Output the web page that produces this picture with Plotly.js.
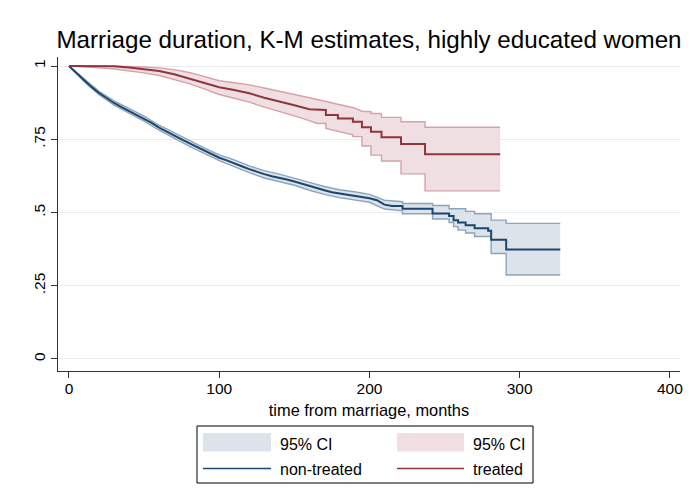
<!DOCTYPE html>
<html>
<head>
<meta charset="utf-8">
<script src="https://cdn.plot.ly/plotly-3.0.1.min.js"></script>
<style>html,body{margin:0;padding:0;background:#fff;}#chart{width:691px;height:504px;}</style>
</head>
<body>
<div id="chart"></div>
<script>
// ---- data ----
var chartTitle = "Marriage duration, K-M estimates, highly educated women";
var xTitle = "time from marriage, months";
var seriesNames = ["non-treated", "treated"];
var ciLabel = "95% CI";
var xTickVals = [0, 100, 200, 300, 400];
var yTickVals = [0, 0.25, 0.5, 0.75, 1];
var yTickText = ["0", ".25", ".5", ".75", "1"];

// non-treated: survival estimate (knots; repeated times mark step drops)
var ntTime = [0,5,10,15,20,25,30,35,40,45,50,55,60,65,70,75,80,85,90,95,100,105,110,115,120,125,130,135,140,145,150,155,160,165,170,175,180,185,190,195,200,205,210,215,222,222,242,242,253,253,256,256,259,259,264,264,270,270,279,279,281,281,291,291,327];
var ntSurv = [1,0.976,0.952,0.929,0.908,0.890,0.874,0.860,0.847,0.834,0.821,0.806,0.790,0.776,0.763,0.750,0.737,0.724,0.712,0.699,0.687,0.678,0.669,0.658,0.648,0.639,0.631,0.624,0.619,0.613,0.606,0.598,0.590,0.583,0.576,0.569,0.565,0.561,0.558,0.554,0.549,0.542,0.527,0.522,0.522,0.513,0.513,0.497,0.497,0.488,0.488,0.474,0.474,0.466,0.466,0.457,0.457,0.446,0.446,0.438,0.438,0.407,0.407,0.374,0.374];
var ntUpTime = [0,10,20,30,40,50,60,70,80,90,100,110,120,130,140,150,160,170,180,190,200,210,222,222,242,242,253,253,264,264,270,270,281,281,291,291,327];
var ntUpper = [1,0.957,0.914,0.881,0.854,0.829,0.798,0.772,0.746,0.721,0.697,0.680,0.659,0.643,0.631,0.618,0.603,0.589,0.578,0.571,0.562,0.542,0.537,0.531,0.531,0.524,0.524,0.513,0.513,0.504,0.504,0.496,0.496,0.474,0.474,0.463,0.463];
var ntLoTime = [0,10,20,30,40,50,60,70,80,90,100,110,120,130,140,150,160,170,180,190,200,210,222,222,242,242,253,253,256,256,259,259,264,264,270,270,281,281,291,291,327];
var ntLower = [1,0.947,0.902,0.867,0.839,0.812,0.781,0.753,0.727,0.702,0.677,0.657,0.636,0.618,0.606,0.593,0.576,0.562,0.551,0.544,0.535,0.512,0.506,0.496,0.496,0.478,0.478,0.466,0.466,0.452,0.452,0.440,0.440,0.430,0.430,0.418,0.418,0.360,0.360,0.287,0.287];

// treated
var trTime = [0,10,20,30,40,50,60,70,80,90,100,110,120,130,140,150,160,171,171,179,179,189,189,195,195,201,201,208,208,221,221,237,237,287];
var trSurv = [1,1,1,0.999,0.995,0.990,0.983,0.972,0.957,0.943,0.928,0.918,0.907,0.892,0.880,0.866,0.853,0.850,0.833,0.833,0.821,0.821,0.810,0.810,0.791,0.791,0.776,0.776,0.757,0.757,0.734,0.734,0.699,0.699];
var trUpTime = [0,30,40,50,60,70,80,90,100,110,120,130,140,150,160,170,180,190,195,201,201,208,208,221,221,237,237,287];
var trUpper = [1,1,0.999,0.997,0.994,0.988,0.978,0.965,0.950,0.943,0.936,0.925,0.915,0.903,0.892,0.880,0.868,0.857,0.846,0.844,0.838,0.838,0.825,0.825,0.810,0.810,0.791,0.791];
var trLoTime = [0,10,20,30,40,50,60,70,80,90,100,110,120,130,140,150,160,165,171,171,189,189,195,195,201,201,208,208,221,221,237,237,287];
var trLower = [1,0.998,0.994,0.990,0.984,0.977,0.968,0.955,0.940,0.922,0.903,0.890,0.877,0.860,0.846,0.830,0.814,0.804,0.804,0.787,0.765,0.759,0.759,0.727,0.727,0.696,0.696,0.676,0.676,0.632,0.632,0.574,0.574];

// ---- styles ----
var FONT = "Liberation Sans, Arial, Helvetica, sans-serif";
var navy = "#1a476f", navyEdge = "#8ea4bb", navyFill = "#dde3ea";
var maroon = "#90353b", maroonEdge = "#d6a2a8", maroonFill = "#f0dfe2";

function band(tLo, lo, tUp, up, edge, fill) {
  return [
    {x: tLo, y: lo, type: "scatter", mode: "lines", line: {width: 0}, hoverinfo: "skip", showlegend: false},
    {x: tUp, y: up, type: "scatter", mode: "lines", fill: "tonexty", fillcolor: fill, line: {width: 0}, hoverinfo: "skip", showlegend: false},
    {x: tLo, y: lo, type: "scatter", mode: "lines", line: {color: edge, width: 1.4}, showlegend: false},
    {x: tUp, y: up, type: "scatter", mode: "lines", line: {color: edge, width: 1.4}, showlegend: false}
  ];
}

var traces = []
  .concat(band(ntLoTime, ntLower, ntUpTime, ntUpper, navyEdge, navyFill))
  .concat(band(trLoTime, trLower, trUpTime, trUpper, maroonEdge, maroonFill))
  .concat([
    {x: ntTime, y: ntSurv, type: "scatter", mode: "lines", name: seriesNames[0], line: {color: navy, width: 2}, showlegend: false},
    {x: trTime, y: trSurv, type: "scatter", mode: "lines", name: seriesNames[1], line: {color: maroon, width: 2}, showlegend: false}
  ]);

// custom legend (paper coordinates) matching the Stata-style box
var L = 58, T = 57, W = 622, H = 314;
function px(x) { return (x - L) / W; }
function py(y) { return (T + H - y) / H; }
var shapes = [
  {type: "rect", xref: "paper", yref: "paper", x0: px(197), x1: px(533), y0: py(426), y1: py(483), line: {color: "#000", width: 1}, fillcolor: "#fff", layer: "above"},
  {type: "rect", xref: "paper", yref: "paper", x0: px(203), x1: px(271), y0: py(433), y1: py(451.5), line: {width: 0}, fillcolor: navyFill, layer: "above"},
  {type: "rect", xref: "paper", yref: "paper", x0: px(397), x1: px(464), y0: py(433), y1: py(451.5), line: {width: 0}, fillcolor: maroonFill, layer: "above"},
  {type: "line", xref: "paper", yref: "paper", x0: px(203), x1: px(271), y0: py(468.5), y1: py(468.5), line: {color: navy, width: 1.5}, layer: "above"},
  {type: "line", xref: "paper", yref: "paper", x0: px(397), x1: px(464), y0: py(468.5), y1: py(468.5), line: {color: maroon, width: 1.5}, layer: "above"}
];
var legFont = {family: FONT, size: 16, color: "#000"};
var annotations = [
  {xref: "paper", yref: "paper", x: px(278), y: py(444), text: ciLabel, showarrow: false, xanchor: "left", yanchor: "middle", font: legFont},
  {xref: "paper", yref: "paper", x: px(471), y: py(444), text: ciLabel, showarrow: false, xanchor: "left", yanchor: "middle", font: legFont},
  {xref: "paper", yref: "paper", x: px(278), y: py(469), text: seriesNames[0], showarrow: false, xanchor: "left", yanchor: "middle", font: legFont},
  {xref: "paper", yref: "paper", x: px(471), y: py(469), text: seriesNames[1], showarrow: false, xanchor: "left", yanchor: "middle", font: legFont}
];

var layout = {
  width: 691, height: 504,
  paper_bgcolor: "#fff", plot_bgcolor: "#fff",
  margin: {l: L, r: 691 - L - W, t: T, b: 504 - T - H, pad: 0},
  font: {family: FONT, color: "#000"},
  showlegend: false,
  title: {text: chartTitle, font: {family: FONT, size: 24.2, color: "#000"}, x: 0.5, xref: "paper", xanchor: "center", y: 1 - 40 / 504, yref: "container", yanchor: "middle"},
  xaxis: {
    range: [-7.3, 406.7], tickvals: xTickVals, ticktext: xTickVals.map(String),
    ticks: "outside", ticklen: 6, tickcolor: "#333", tickwidth: 1,
    showline: true, linecolor: "#333", linewidth: 1, mirror: false,
    showgrid: false, zeroline: false, ticklabelstandoff: -3,
    tickfont: {family: FONT, size: 15.5, color: "#000"},
    title: {text: xTitle, font: {family: FONT, size: 16.4, color: "#000"}, standoff: 8}
  },
  yaxis: {
    range: [-0.041, 1.031], tickvals: yTickVals, ticktext: yTickText, tickangle: -90,
    ticks: "outside", ticklen: 6, tickcolor: "#333", tickwidth: 1,
    showline: true, linecolor: "#333", linewidth: 1,
    showgrid: true, gridcolor: "#e7edf0", gridwidth: 1, zeroline: false,
    tickfont: {family: FONT, size: 15.5, color: "#000"}
  },
  shapes: shapes,
  annotations: annotations
};

Plotly.newPlot("chart", traces, layout, {staticPlot: true, displayModeBar: false});
</script>
</body>
</html>
